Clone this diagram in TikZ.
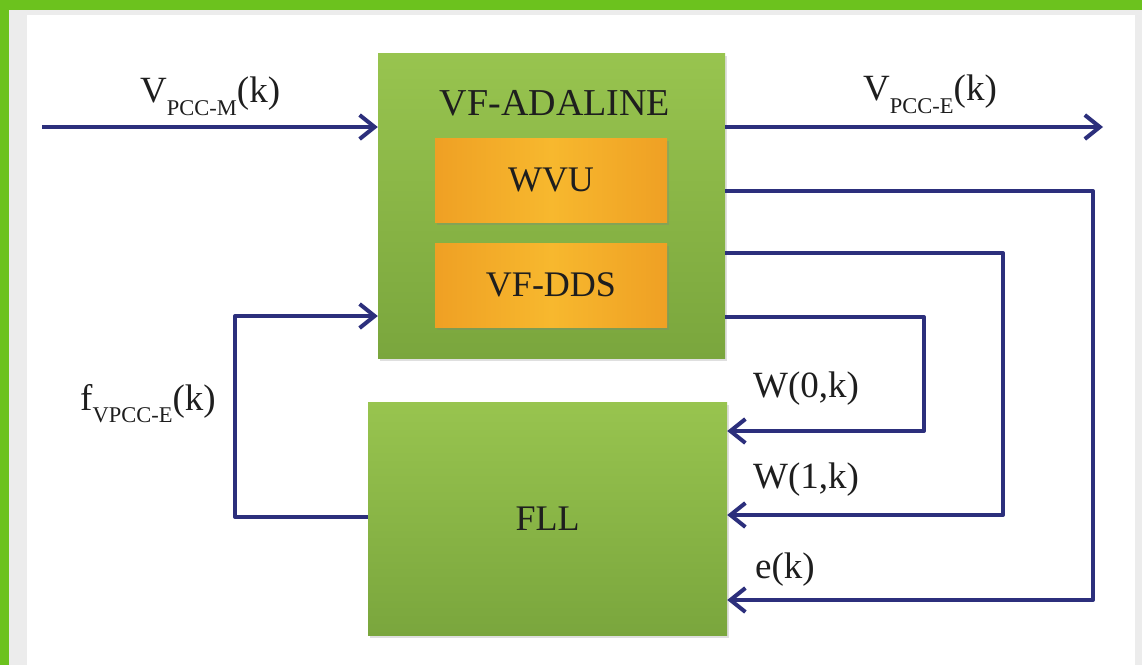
\documentclass[tikz,border=0pt]{standalone}
\usepackage{fontspec}
\setmainfont{Liberation Serif}
\usetikzlibrary{arrows.meta,shadows}
\definecolor{navy}{HTML}{2C2F7C}
\definecolor{framegreen}{HTML}{6CC21E}
\definecolor{stripgray}{HTML}{ECECEC}
\definecolor{boxtop}{HTML}{98C44F}
\definecolor{boxbot}{HTML}{7AA63D}
\definecolor{orA}{HTML}{EFA024}
\definecolor{orB}{HTML}{F7B82E}
\definecolor{txt}{HTML}{1E1E1E}
\newcommand\lowsub[2]{\raisebox{#1}{\fontsize{22.5}{24}\selectfont #2}}
\tikzset{
  greenbox/.style={rectangle, draw=none, top color=boxtop, bottom color=boxbot,
    drop shadow={opacity=0.25, shadow xshift=2pt, shadow yshift=-3pt}, inner sep=0pt,
    text=txt, font=\fontsize{36}{40}\selectfont},
  orbox/.style={rectangle, draw=none, left color=orA, right color=orA, middle color=orB,
    drop shadow={opacity=0.3, shadow xshift=2pt, shadow yshift=-3pt}, inner sep=0pt,
    text=txt, font=\fontsize{36}{40}\selectfont, minimum width=232pt, minimum height=84pt},
  conn/.style={draw=navy, line width=4pt, line join=round},
  arr/.style={conn, -{Straight Barb[length=15pt,width=24pt,line width=4pt]}},
  lbl/.style={anchor=base west, inner sep=0pt, text=txt, font=\fontsize{37}{40}\selectfont}
}
\begin{document}
\begin{tikzpicture}[x=1pt,y=-1pt]
\useasboundingbox (0,0) rectangle (1142,665);
\fill[framegreen] (0,0) rectangle (1142,665);
\fill[stripgray] (9,10) rectangle (1142,665);
\fill[white] (27,15) rectangle (1135,665);

% blocks
\node[greenbox, minimum width=347pt, minimum height=305pt] (adaline) at (551.5,205.5) {};
\node[anchor=base, inner sep=0pt, text=txt, font=\fontsize{38}{42}\selectfont] (adatitle) at (555,115) {VF-ADALINE};
\node[orbox] (wvu) at (551,180) {WVU};
\node[orbox] (dds) at (551,285) {VF-DDS};
\node[greenbox, minimum width=359pt, minimum height=233pt] (fll) at (547.5,518.5) {FLL};

% free ends
\coordinate (vin) at (42,127);
\coordinate (vout) at (1103,127);

% connectors
\draw[arr] (vin) -- (adaline.west |- vin);
\draw[arr] (adaline.east |- vout) -- (vout);
\draw[arr] (adaline.east |- 0,191) -| (1093,600) -- (fll.east |- 0,600);
\draw[arr] (adaline.east |- 0,253) -| (1003,515) -- (fll.east |- 0,515);
\draw[arr] (adaline.east |- 0,317) -| (924,431) -- (fll.east |- 0,431);
\draw[arr] (fll.west |- 0,517) -| (235,316) -- (adaline.west |- 0,316);

% labels
\node[lbl] (lvin) at (140,102) {V\lowsub{-13pt}{PCC-M}(k)};
\node[lbl] (lvout) at (863,100) {V\lowsub{-13pt}{PCC-E}(k)};
\node[lbl] (lf) at (80,410) {f\lowsub{-12pt}{VPCC-E}(k)};
\node[lbl] (lw0) at (753,397) {W(0,k)};
\node[lbl] (lw1) at (753,488) {W(1,k)};
\node[lbl] (le) at (755,578) {e(k)};
\end{tikzpicture}
\end{document}
